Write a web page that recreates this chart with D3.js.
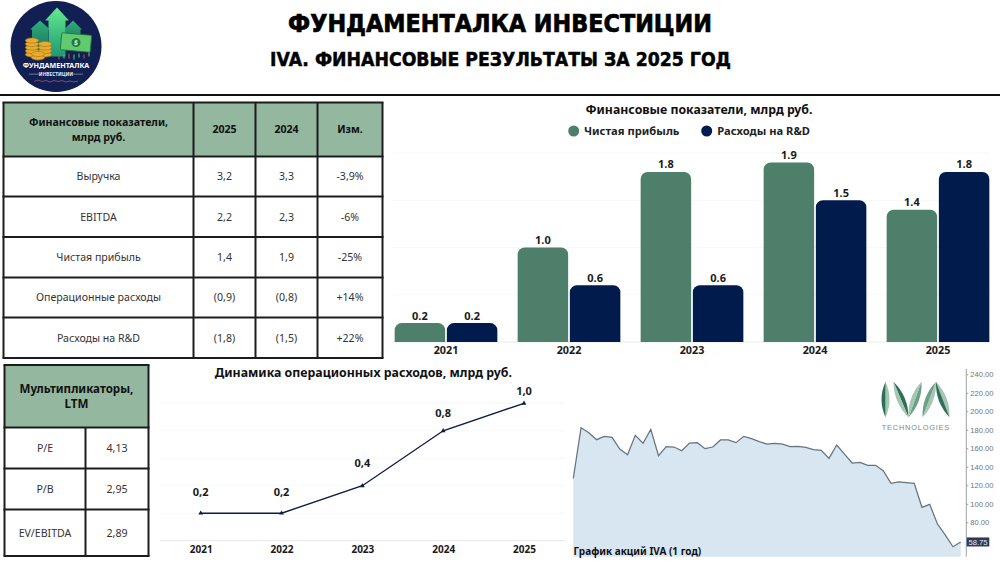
<!DOCTYPE html>
<html lang="ru">
<head>
<meta charset="utf-8">
<title>IVA. Финансовые результаты за 2025 год</title>
<script src="https://cdn.jsdelivr.net/npm/d3@7"></script>
<style>
  html, body { margin: 0; padding: 0; background: #fff; }
  svg { display: block; }
  text { font-family: "Noto Sans", "Open Sans", sans-serif; }
</style>
</head>
<body>
<svg id="page" width="1000" height="563" viewBox="0 0 1000 563"></svg>
<script>
// Report figures
const pageTitle = "ФУНДАМЕНТАЛКА ИНВЕСТИЦИИ";
const pageSubtitle = "IVA. ФИНАНСОВЫЕ РЕЗУЛЬТАТЫ ЗА 2025 ГОД";

const finHeader = ["Финансовые показатели,|млрд руб.", "2025", "2024", "Изм."];
const finRows = [
  ["Выручка", "3,2", "3,3", "-3,9%"],
  ["EBITDA", "2,2", "2,3", "-6%"],
  ["Чистая прибыль", "1,4", "1,9", "-25%"],
  ["Операционные расходы", "(0,9)", "(0,8)", "+14%"],
  ["Расходы на R&D", "(1,8)", "(1,5)", "+22%"]
];
const multHeader = "Мультипликаторы,|LTM";
const multRows = [["P/E", "4,13"], ["P/B", "2,95"], ["EV/EBITDA", "2,89"]];

const years = ["2021", "2022", "2023", "2024", "2025"];
const netProfit = [0.2, 1.0, 1.8, 1.9, 1.4];
const rdExpenses = [0.2, 0.6, 0.6, 1.5, 1.8];
const opExpenses = [0.2, 0.2, 0.4, 0.8, 1.0];
const opExpenseLabels = ["0,2", "0,2", "0,4", "0,8", "1,0"];

const sharePrice = [127.5, 182.3, 176.9, 169.3, 172.9, 171.9, 159.2, 153.1, 174, 165.4, 180.5,
  152, 161.8, 161.4, 157.4, 165.7, 166.1, 159.6, 161.4, 169, 169, 166.1, 172.9, 170.4, 167.2,
  164.6, 165.4, 164.6, 161.8, 162.1, 161, 158.5, 157.8, 149.1, 163.6, 153.8, 144.1, 144.8,
  141.6, 141.6, 135.8, 122.1, 123.6, 122.8, 122.1, 96.2, 99.4, 78.1, 66.3, 53.6, 58.75];
const priceTicks = [240, 220, 200, 180, 160, 140, 120, 100, 80];

const GREEN = "#4d7f6b", NAVY = "#021b4d", HEADER = "#93b79f", INK = "#1c1c1c";
const svg = d3.select("#page");

// ---- Page heading ----
const headFont = '"DejaVu Sans", sans-serif';
svg.append("text").attr("x", 500).attr("y", 31.5).attr("text-anchor", "middle")
  .attr("textLength", 424).attr("lengthAdjust", "spacingAndGlyphs")
  .style("font-family", headFont).style("font-weight", 700).style("font-size", "24.5px")
  .attr("stroke", "#000").attr("stroke-width", 0.7).text(pageTitle);
svg.append("text").attr("x", 500.5).attr("y", 65.5).attr("text-anchor", "middle")
  .attr("textLength", 461).attr("lengthAdjust", "spacingAndGlyphs")
  .style("font-family", headFont).style("font-weight", 700).style("font-size", "19px")
  .attr("stroke", "#000").attr("stroke-width", 0.5).text(pageSubtitle);
svg.append("rect").attr("x", 0).attr("y", 94).attr("width", 1000).attr("height", 2).attr("fill", "#111");

// ---- Round emblem ----
const badge = svg.append("g").attr("transform", "translate(56,46.5)");
const defs = svg.append("defs");
const arrowGrad = defs.append("linearGradient").attr("id", "arrowFill").attr("x1", 0).attr("y1", 0).attr("x2", 0).attr("y2", 1);
arrowGrad.append("stop").attr("offset", 0).attr("stop-color", "#66e890");
arrowGrad.append("stop").attr("offset", 1).attr("stop-color", "#1c9a72");
const sideGrad = defs.append("linearGradient").attr("id", "sideFill").attr("x1", 0).attr("y1", 0).attr("x2", 0).attr("y2", 1);
sideGrad.append("stop").attr("offset", 0).attr("stop-color", "#2fae78");
sideGrad.append("stop").attr("offset", 1).attr("stop-color", "#15705f");
badge.append("circle").attr("r", 45.5).attr("fill", "#121f52");
const arrowPath = (cx, tip, halfHead, halfShaft, headY, base) =>
  `M${cx},${tip}L${cx + halfHead},${headY}L${cx + halfShaft},${headY}L${cx + halfShaft},${base}` +
  `L${cx - halfShaft},${base}L${cx - halfShaft},${headY}L${cx - halfHead},${headY}Z`;
badge.append("path").attr("d", arrowPath(-16, -26, 10, 8, -17, 8)).attr("fill", "url(#sideFill)");
badge.append("path").attr("d", arrowPath(17, -26, 9, 7.5, -17, 0)).attr("fill", "url(#sideFill)");
badge.append("path").attr("d", arrowPath(1, -39, 12, 8.5, -26, 10)).attr("fill", "url(#arrowFill)");
// coin stacks, drawn bottom-up
[[-24, 8], [-24, 4.5], [-24, 1], [-24, -2.5], [-24, -6], [-11, 8], [-11, 4.5], [-11, 1], [-11, -2.5], [-18, 11], [-18, 7.5]].forEach(([x, y]) => {
  badge.append("ellipse").attr("cx", x).attr("cy", y).attr("rx", 6.6).attr("ry", 2.6)
    .attr("fill", "#e5ac2f").attr("stroke", "#a8741a").attr("stroke-width", 0.6);
});
const note = badge.append("g").attr("transform", "translate(20,-4) rotate(5)");
note.append("rect").attr("x", -15).attr("y", -8.5).attr("width", 30).attr("height", 17).attr("rx", 1).attr("fill", "#63c96f").attr("stroke", "#1f6b3c").attr("stroke-width", 0.8);
note.append("circle").attr("r", 4.5).attr("fill", "#1f7a42");
note.append("text").attr("text-anchor", "middle").attr("y", 2.6).attr("fill", "#d4f5d0").style("font-size", "7px").style("font-weight", 700).text("$");
// little candlesticks under the banknote
[[3, 9, 13, "#c94a4a"], [8, 8, 12, "#52c46c"], [13, 7, 12, "#c94a4a"], [18, 8, 13, "#52c46c"], [23, 7, 11, "#52c46c"], [28, 8, 12, "#c94a4a"], [33, 6, 10, "#52c46c"]].forEach(([x, y1, y2, c]) => {
  badge.append("line").attr("x1", x).attr("x2", x).attr("y1", y1).attr("y2", y2).attr("stroke", c).attr("stroke-width", 1.1);
});
badge.append("text").attr("text-anchor", "middle").attr("y", 21.8).attr("fill", "#fff")
  .style("font-size", "7.4px").style("font-weight", 700).attr("textLength", 66.5).attr("lengthAdjust", "spacingAndGlyphs").text("ФУНДАМЕНТАЛКА");
badge.append("text").attr("text-anchor", "middle").attr("y", 29.2).attr("fill", "#e6e6ef")
  .style("font-size", "4.8px").style("font-weight", 700).text("ИНВЕСТИЦИИ");
badge.selectAll("line.dash").data([-1, 1]).join("line").attr("class", "dash")
  .attr("x1", d => d * 17).attr("x2", d => d * 27).attr("y1", 27.6).attr("y2", 27.6)
  .attr("stroke", "#cfd3e6").attr("stroke-width", 0.5);
badge.append("path").attr("d", "M-22,35l4,-1.5l4,1.5l4,-1l4,1.5l4,-1.5l4,1l4,-1l4,1.5l4,-1l4,1l4,-1")
  .attr("fill", "none").attr("stroke", "#b85a78").attr("stroke-width", 0.7);

// ---- Tables ----
function cellText(g, x, y, str, opts) {
  const lines = str.split("|");
  const lh = opts.lineHeight || 15;
  g.append("text").attr("text-anchor", "middle").attr("fill", opts.bold ? "#111" : "#333")
    .style("font-size", opts.size + "px").style("font-weight", opts.bold ? 700 : 400)
    .selectAll("tspan").data(lines).join("tspan")
    .attr("x", x).attr("y", (d, i) => y + (i - (lines.length - 1) / 2) * lh + opts.size * 0.36)
    .text(d => d);
}
function drawTable(colEdges, rowEdges, headRows, bodyRows, headSpan, headOpts) {
  const g = svg.append("g");
  g.append("rect").attr("x", colEdges[0]).attr("y", rowEdges[0])
    .attr("width", colEdges[colEdges.length - 1] - colEdges[0]).attr("height", rowEdges[1] - rowEdges[0])
    .attr("fill", HEADER);
  // inner verticals are skipped across the header when one cell spans the row
  colEdges.forEach((x, i) => {
    const inner = i > 0 && i < colEdges.length - 1;
    g.append("line").attr("x1", x).attr("x2", x)
      .attr("y1", inner && headSpan ? rowEdges[1] : rowEdges[0]).attr("y2", rowEdges[rowEdges.length - 1])
      .attr("stroke", INK).attr("stroke-width", 2);
  });
  rowEdges.forEach(y => g.append("line").attr("x1", colEdges[0] - 1).attr("x2", colEdges[colEdges.length - 1] + 1)
    .attr("y1", y).attr("y2", y).attr("stroke", INK).attr("stroke-width", 2));
  const mid = (a, i) => (a[i] + a[i + 1]) / 2;
  headRows.forEach((t, i) => {
    const x = headSpan ? mid([colEdges[0], colEdges[colEdges.length - 1]], 0) : mid(colEdges, i);
    cellText(g, x, mid(rowEdges, 0), t, headOpts);
  });
  bodyRows.forEach((row, r) => row.forEach((t, c) =>
    cellText(g, mid(colEdges, c), mid(rowEdges, r + 1), t, { size: 10.6, bold: false })));
}
drawTable([3.5, 193.5, 255.5, 317.5, 382.5], [102.5, 156.5, 196.5, 237, 277.5, 317.5, 358],
  finHeader, finRows, false, { size: 10.6, bold: true, lineHeight: 15 });
drawTable([4.5, 85.5, 148.5], [365, 427.5, 468.5, 509.5, 556],
  [multHeader], multRows, true, { size: 11.6, bold: true, lineHeight: 15.5 });

// ---- Grouped bars: net profit vs R&D ----
const barY = d3.scaleLinear().domain([0, 2]).range([342, 153]);
const barX0 = d3.scaleBand().domain(years).range([384.5, 999.5]).paddingInner(0.165).paddingOuter(0.0825);
const barX1 = d3.scaleBand().domain(["profit", "rd"]).range([0, barX0.bandwidth()]).paddingInner(0.033);
const barSeries = [
  { key: "profit", name: "Чистая прибыль", values: netProfit, color: GREEN },
  { key: "rd", name: "Расходы на R&D", values: rdExpenses, color: NAVY }
];

svg.append("g").selectAll("line").data(barY.ticks(4)).join("line")
  .attr("x1", 393).attr("x2", 990).attr("y1", d => barY(d)).attr("y2", d => barY(d))
  .attr("stroke", d => d === 0 ? "#e8ebeb" : "#f7f8f8");

const topRounded = (x, y, w, h, r) => {
  const p = d3.path();
  p.moveTo(x, y + h);
  p.lineTo(x, y + r);
  p.arcTo(x, y, x + r, y, r);
  p.lineTo(x + w - r, y);
  p.arcTo(x + w, y, x + w, y + r, r);
  p.lineTo(x + w, y + h);
  p.closePath();
  return p.toString();
};
barSeries.forEach(s => {
  const g = svg.append("g");
  g.selectAll("path").data(s.values).join("path")
    .attr("d", (v, i) => topRounded(barX0(years[i]) + barX1(s.key), barY(v), barX1.bandwidth(), barY(0) - barY(v), 7))
    .attr("fill", s.color);
  g.selectAll("text").data(s.values).join("text")
    .attr("x", (v, i) => barX0(years[i]) + barX1(s.key) + barX1.bandwidth() / 2)
    .attr("y", v => barY(v) - 3.5).attr("text-anchor", "middle")
    .attr("fill", "#1a1a1a").style("font-size", "11px").style("font-weight", 700)
    .text(v => v.toFixed(1));
});
const barAxis = svg.append("g").attr("transform", "translate(0,342)")
  .call(d3.axisBottom(barX0).tickSize(0).tickPadding(4));
barAxis.select(".domain").remove();
barAxis.selectAll("text").attr("fill", "#1a1a1a").style("font-size", "10.8px").style("font-weight", 700)
  .style("font-family", '"Noto Sans", sans-serif');

svg.append("text").attr("x", 699).attr("y", 113.5).attr("text-anchor", "middle").attr("fill", "#111")
  .style("font-size", "12.3px").style("font-weight", 700).text("Финансовые показатели, млрд руб.");
const legendAt = [[573.7, 584], [706.7, 717.3]];
barSeries.forEach((s, i) => {
  svg.append("circle").attr("cx", legendAt[i][0]).attr("cy", 131).attr("r", 5.5).attr("fill", s.color);
  svg.append("text").attr("x", legendAt[i][1]).attr("y", 135).attr("fill", "#222")
    .style("font-size", "11.2px").style("font-weight", 700).text(s.name);
});

// ---- Operating expenses line ----
const lineY = d3.scaleLinear().domain([0, 1]).range([540.7, 403.3]);
const lineX = d3.scalePoint().domain(years).range([200.7, 524]);
const labelLift = [21, 21, 23, 18, 12.5];

svg.append("g").selectAll("line").data(lineY.ticks(5)).join("line")
  .attr("x1", 160).attr("x2", 565).attr("y1", d => lineY(d)).attr("y2", d => lineY(d))
  .attr("stroke", d => d === 0 ? "#e8ebeb" : "#f7f8f8");
svg.append("path").datum(opExpenses)
  .attr("d", d3.line().x((v, i) => lineX(years[i])).y(v => lineY(v)))
  .attr("fill", "none").attr("stroke", "#0e1b47").attr("stroke-width", 1.4);
svg.append("g").selectAll("path").data(opExpenses).join("path")
  .attr("d", d3.symbol(d3.symbolTriangle, 10))
  .attr("transform", (v, i) => `translate(${lineX(years[i])},${lineY(v)})`).attr("fill", "#0e1b47");
svg.append("g").selectAll("text").data(opExpenseLabels).join("text")
  .attr("x", (t, i) => lineX(years[i]))
  .attr("y", (t, i) => lineY(opExpenses[i]) - labelLift[i] + 4)
  .attr("text-anchor", "middle").attr("fill", "#1a1a1a")
  .style("font-size", "11px").style("font-weight", 700).text(t => t);
const lineAxis = svg.append("g").attr("transform", "translate(0,540.7)")
  .call(d3.axisBottom(lineX).tickSize(0).tickPadding(5));
lineAxis.select(".domain").remove();
lineAxis.selectAll("text").attr("fill", "#1a1a1a").style("font-size", "10px").style("font-weight", 700)
  .style("font-family", '"Noto Sans", sans-serif');
svg.append("text").attr("x", 363.3).attr("y", 377).attr("text-anchor", "middle").attr("fill", "#111")
  .style("font-size", "12.35px").style("font-weight", 700).text("Динамика операционных расходов, млрд руб.");

// ---- Share price, one year ----
const priceY = d3.scaleLinear().domain([240, 80]).range([374.3, 522.3]);
const priceX = d3.scalePoint().domain(d3.range(sharePrice.length)).range([573.3, 960.7]);
const priceFloor = 556.7;
svg.append("path").datum(sharePrice)
  .attr("d", d3.area().x((v, i) => priceX(i)).y0(priceFloor).y1(v => priceY(v)))
  .attr("fill", "#d8e6f1");
svg.append("path").datum(sharePrice)
  .attr("d", d3.line().x((v, i) => priceX(i)).y(v => priceY(v)))
  .attr("fill", "none").attr("stroke", "#66747f").attr("stroke-width", 1.25);
const priceAxis = svg.append("g").attr("transform", "translate(966.3,0)")
  .call(d3.axisRight(priceY).tickValues(priceTicks).tickSize(2).tickPadding(2).tickFormat(d3.format(".2f")));
priceAxis.select(".domain").remove();
svg.append("line").attr("x1", 966.3).attr("x2", 966.3).attr("y1", 369).attr("y2", priceFloor).attr("stroke", "#9aa0a6");
priceAxis.selectAll("line").attr("stroke", "#9aa0a6");
priceAxis.selectAll("text").attr("fill", "#6f7478").style("font-size", "7.6px")
  .style("font-family", '"Liberation Sans", sans-serif');
const lastPrice = sharePrice[sharePrice.length - 1];
svg.append("rect").attr("x", 966.7).attr("y", priceY(lastPrice) - 4.5).attr("width", 22.6).attr("height", 9).attr("fill", "#2a3a5c");
svg.append("text").attr("x", 978).attr("y", priceY(lastPrice) + 2.7).attr("text-anchor", "middle").attr("fill", "#e8ecf3")
  .style("font-size", "7.6px").style("font-family", '"Liberation Sans", sans-serif').text(lastPrice.toFixed(2));
svg.append("text").attr("x", 573.5).attr("y", 555).attr("fill", "#111")
  .style("font-size", "10px").style("font-weight", 700).text("График акций IVA (1 год)");

// ---- Company mark: two-tone leaf strokes over the word TECHNOLOGIES ----
function leaf(g, a, b, width, leftColor, rightColor) {
  const mx = (a[0] + b[0]) / 2, my = (a[1] + b[1]) / 2;
  const dx = b[0] - a[0], dy = b[1] - a[1], len = Math.hypot(dx, dy);
  const nx = dy / len * width, ny = -dx / len * width;
  g.append("path").attr("d", `M${a}Q${mx + nx},${my + ny} ${b}Q${mx},${my} ${a}Z`).attr("fill", leftColor);
  g.append("path").attr("d", `M${a}Q${mx},${my} ${b}Q${mx - nx},${my - ny} ${a}Z`).attr("fill", rightColor);
}
const mark = svg.append("g");
const leafTop = 381.7, leafFoot = 417.3, LIGHT = "#a3c7b2", DARK = "#2f6f57", MIDTONE = "#6d9f87";
[[[885.5, leafTop], [885.5, leafFoot], LIGHT, DARK],
 [[893.5, leafTop], [908.5, leafFoot], DARK, LIGHT],
 [[921.5, leafTop], [908.5, leafFoot], MIDTONE, LIGHT],
 [[936, leafTop], [922.5, leafFoot], LIGHT, MIDTONE],
 [[936, leafTop], [949.5, leafFoot], LIGHT, DARK]].forEach(([a, b, c1, c2]) => leaf(mark, a, b, 8, c1, c2));
svg.append("text").attr("x", 915.5).attr("y", 429.6).attr("text-anchor", "middle").attr("fill", "#7d8a86")
  .attr("textLength", 67.5).style("font-size", "7.4px").style("font-family", '"Liberation Sans", sans-serif').text("TECHNOLOGIES");
</script>
</body>
</html>
